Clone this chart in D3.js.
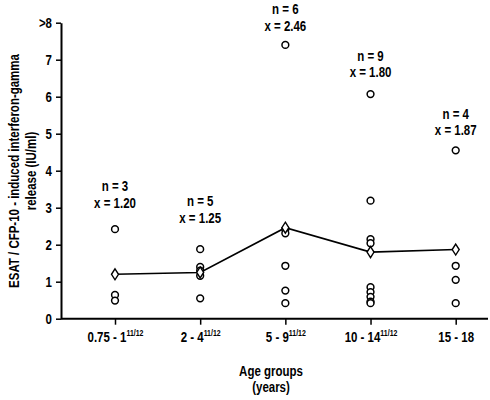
<!DOCTYPE html>
<html>
<head>
<meta charset="utf-8">
<script src="https://cdn.jsdelivr.net/npm/d3@7"></script>
<style>
  html, body { margin: 0; padding: 0; background: #fff; }
  svg text { font-family: "Liberation Sans", Arial, sans-serif; font-weight: bold; fill: #000; }
</style>
</head>
<body>
<svg id="chart" width="490" height="400"></svg>
<script>
// ---- data ----
const categories = ["0.75 - 1", "2 - 4", "5 - 9", "10 - 14", "15 - 18"];
const categorySup = ["11/12", "11/12", "11/12", "11/12", ""];
const g1 = [2.42, 0.64, 0.49];
const g2 = [1.88, 1.40, 1.30, 1.16, 0.55];
const g3 = [7.40, 2.42, 2.31, 1.43, 0.76, 0.42];
const g4 = [6.07, 3.19, 2.15, 2.04, 0.85, 0.72, 0.59, 0.46, 0.42];
const g5 = [4.55, 1.43, 1.05, 0.42];
const groups = [g1, g2, g3, g4, g5];
const means = [1.20, 1.25, 2.46, 1.80, 1.87];
const nLabels = ["n = 3", "n = 5", "n = 6", "n = 9", "n = 4"];
const meanLabels = ["x = 1.20", "x = 1.25", "x = 2.46", "x = 1.80", "x = 1.87"];
const labelLevel = [3.13, 2.73, 7.92, 6.66, 5.10];
const yTicks = [0, 1, 2, 3, 4, 5, 6, 7, 8];
const yTickLabels = ["0", "1", "2", "3", "4", "5", "6", "7", ">8"];

// ---- layout ----
const NARROW = 0.82; // emulate a narrow (condensed) bold sans face
const svg = d3.select("#chart");
const axisX = 61, axisRight = 488;
const y = d3.scaleLinear().domain([0, 8]).range([318.7, 22.7]);
const x = d3.scalePoint().domain(categories).range([115, 455.7]);

function label(parent, px, py, str, size, anchor) {
  return parent.append("text")
    .attr("transform", `translate(${px},${py}) scale(${NARROW},1)`)
    .attr("text-anchor", anchor || "middle")
    .style("font-size", (size || 14) + "px")
    .text(str);
}

// y axis
const yAxis = d3.axisLeft(y).tickValues(yTicks)
  .tickFormat((d, i) => yTickLabels[i]).tickSize(5).tickSizeOuter(0).tickPadding(4);
const yg = svg.append("g").attr("transform", `translate(${axisX},0)`).call(yAxis);
yg.select(".domain").attr("stroke", "#000").attr("stroke-width", 2);
yg.selectAll(".tick line").attr("stroke", "#000").attr("stroke-width", 1.5);
yg.selectAll(".tick text")
  .attr("x", 0).attr("dy", "0.36em")
  .attr("transform", `translate(-9,0) scale(${NARROW},1)`)
  .style("font-size", "14px");

// x axis
const xAxis = d3.axisBottom(x).tickSize(6).tickSizeOuter(0).tickFormat("");
const xg = svg.append("g").attr("transform", `translate(0,${y(0)})`).call(xAxis);
xg.select(".domain").attr("d", `M${axisX},0H${axisRight}`).attr("stroke", "#000").attr("stroke-width", 2);
xg.selectAll(".tick line").attr("stroke", "#000").attr("stroke-width", 1.5);
xg.selectAll(".tick text").remove();
xg.selectAll(".tick").each(function(d, i) {
  const t = d3.select(this).append("text")
    .attr("transform", `translate(0,23) scale(${NARROW},1)`)
    .attr("text-anchor", "middle").style("font-size", "14px");
  t.append("tspan").text(categories[i]);
  if (categorySup[i]) {
    t.append("tspan").attr("dy", -6).style("font-size", "8.5px").text(categorySup[i]);
  }
});

// mean line
svg.append("path")
  .datum(means)
  .attr("fill", "none").attr("stroke", "#000").attr("stroke-width", 1.6)
  .attr("d", d3.line().x((d, i) => x(categories[i])).y(d => y(d)));

// points
groups.forEach((vals, gi) => {
  svg.append("g").selectAll("circle").data(vals).join("circle")
    .attr("cx", x(categories[gi])).attr("cy", d => y(d)).attr("r", 3.4)
    .attr("fill", "#fff").attr("stroke", "#000").attr("stroke-width", 1.5);
});

// mean diamonds
svg.append("g").selectAll("path").data(means).join("path")
  .attr("transform", (d, i) => `translate(${x(categories[i])},${y(d)})`)
  .attr("d", "M0,-5.5L3.5,0L0,5.5L-3.5,0Z")
  .attr("fill", "#fff").attr("stroke", "#000").attr("stroke-width", 1.4);

// n / mean labels
categories.forEach((c, i) => {
  const cy = y(labelLevel[i]);
  label(svg, x(c), cy - 16.5 + 5, nLabels[i]);
  label(svg, x(c), cy + 5, meanLabels[i]);
});

// axis titles
const yt = svg.append("text")
  .attr("transform", `translate(14,171) rotate(-90) scale(${NARROW},1)`)
  .attr("text-anchor", "middle").style("font-size", "14px");
yt.append("tspan").attr("x", 0).attr("dy", 5).text("ESAT / CFP-10 - induced interferon-gamma");
yt.append("tspan").attr("x", 0).attr("dy", 17).text("release (IU/ml)");

label(svg, 271, 376, "Age groups");
label(svg, 271, 392, "(years)");
</script>
</body>
</html>
